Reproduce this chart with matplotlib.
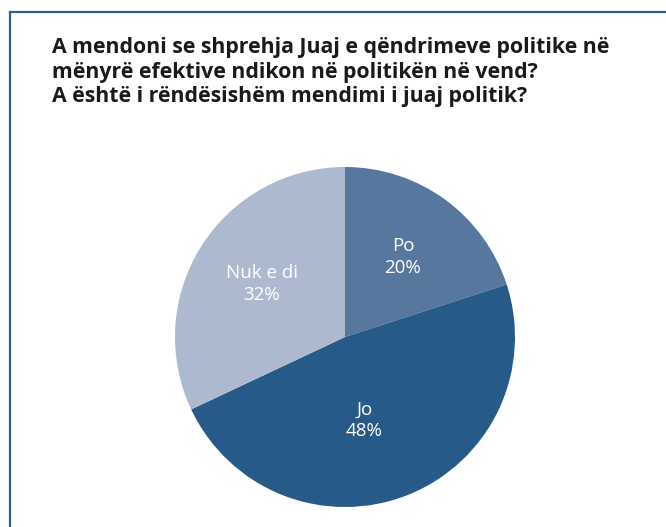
import matplotlib.pyplot as plt
from matplotlib.lines import Line2D

TITLE = ("A mendoni se shprehja Juaj e qëndrimeve politike në\n"
         "mënyrë efektive ndikon në politikën në vend?\n"
         "A është i rëndësishëm mendimi i juaj politik?")
categories = ["Po", "Jo", "Nuk e di"]
shares = [20, 48, 32]
colors = ["#57779E", "#275A88", "#ADB9CF"]

W, H = 666, 527
fig = plt.figure(figsize=(W / 100, H / 100), dpi=100)

# frame: top and left rule only
border = "#2B6097"
fig.add_artist(Line2D([10 / W, 1], [1 - 12 / H, 1 - 12 / H], color=border, lw=1.6))
fig.add_artist(Line2D([10 / W, 10 / W], [0, 1 - 12 / H], color=border, lw=1.6))

fig.text(52 / W, 1 - 37 / H, TITLE, ha="left", va="top", fontsize=15.3,
         fontweight="bold", family="Open Sans", color="#1a1a1a", linespacing=1.22)

cx, cy, r = 345, 337, 170
ax = fig.add_axes([(cx - r) / W, (H - cy - r) / H, 2 * r / W, 2 * r / H])
labels = [f"{c}\n{v}%" for c, v in zip(categories, shares)]
wedges, texts = ax.pie(shares, colors=colors, startangle=90, counterclock=False,
                       labels=labels, labeldistance=0.58,
                       textprops=dict(color="white", fontsize=13.5, family="Open Sans",
                                      ha="center", va="center", linespacing=1.25),
                       wedgeprops=dict(linewidth=0))
# the "Jo" label sits a little left of the wedge's middle in the original
x, y = texts[1].get_position()
texts[1].set_position((x - 0.1, y + 0.05))
ax.set_aspect("equal")
ax.set_xlim(-1, 1)
ax.set_ylim(-1, 1)

fig.savefig("out.png", dpi=100)
